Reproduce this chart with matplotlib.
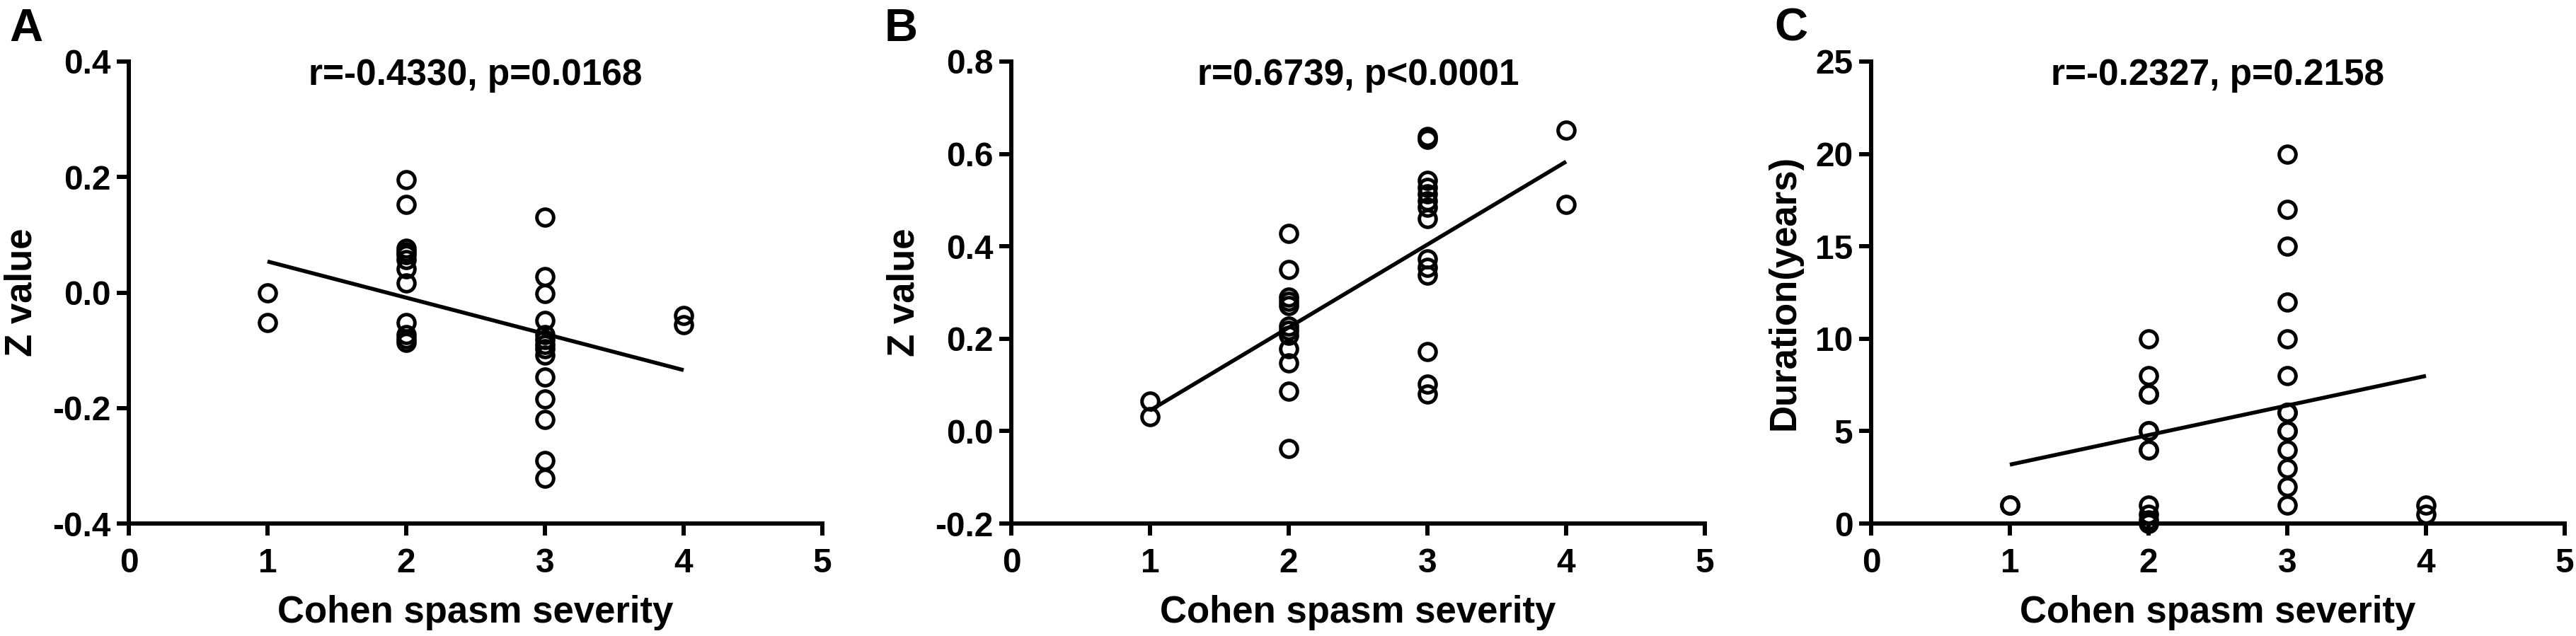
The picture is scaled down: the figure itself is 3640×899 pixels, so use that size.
import numpy as np
import matplotlib.pyplot as plt

plt.rcParams['font.family'] = ['Liberation Sans', 'DejaVu Sans']
plt.rcParams['font.weight'] = 'bold'
plt.rcParams['axes.unicode_minus'] = False

# Cohen spasm severity for each patient (same 30 patients in all panels)
sev = [1, 1,
       2, 2, 2, 2, 2, 2, 2, 2, 2, 2, 2, 2,
       3, 3, 3, 3, 3, 3, 3, 3, 3, 3, 3, 3, 3, 3,
       4, 4]

# Panel A: Z value
z_a = [0.000, -0.052,
       0.195, 0.153, 0.077, 0.071, 0.065, 0.057, 0.041, 0.017, -0.052, -0.073, -0.080, -0.086,
       0.130, 0.027, -0.002, -0.048, -0.073, -0.081, -0.090, -0.098, -0.109, -0.147, -0.184,
       -0.220, -0.291, -0.322,
       -0.040, -0.056]

# Panel B: Z value
z_b = [0.065, 0.032,
       0.428, 0.350, 0.290, 0.281, 0.272, 0.228, 0.218, 0.208, 0.178, 0.148, 0.087, -0.037,
       0.637, 0.631, 0.543, 0.528, 0.513, 0.499, 0.484, 0.460, 0.372, 0.355, 0.337, 0.172,
       0.101, 0.081,
       0.651, 0.490]

# Panel C: disease duration (years)
dur_c = [1, 1,
         10, 8, 7, 5, 4, 1, 0.5, 0.2, 0, 5, 7, 4,
         20, 17, 15, 12, 10, 8, 6, 5, 4, 3, 2, 1, 6, 5,
         1, 0.5]

letters = ['A', 'B', 'C']
titles = ['r=-0.4330, p=0.0168', 'r=0.6739, p<0.0001', 'r=-0.2327, p=0.2158']
ylabels = ['Z value', 'Z value', 'Duration(years)']
series = [z_a, z_b, dur_c]
ylims = [(-0.4, 0.4), (-0.2, 0.8), (0, 25)]
yticks = [[-0.4, -0.2, 0.0, 0.2, 0.4],
          [-0.2, 0.0, 0.2, 0.4, 0.6, 0.8],
          [0, 5, 10, 15, 20, 25]]
yfmt = ['%.1f', '%.1f', '%d']

W, H = 3640, 899
fig = plt.figure(figsize=(W / 100, H / 100), dpi=100)

# layout in pixels
ax_left = [182, 1429, 2644]
ax_w, ax_top, ax_bot = 980, 87, 740
letter_x = [13, 1250, 2507]
ylab_x = [31, 1278, 2522]

for i in range(3):
    ax = fig.add_axes([ax_left[i] / W, 1 - ax_bot / H, ax_w / W, (ax_bot - ax_top) / H])
    x = np.array(sev, dtype=float)
    y = np.array(series[i], dtype=float)

    ax.plot(x, y, 'o', ms=17, mfc='none', mec='black', mew=3.6,
            clip_on=False, zorder=3)

    # linear regression line over the data range
    k, b = np.polyfit(x, y, 1)
    xs = np.array([x.min(), x.max()])
    ax.plot(xs, k * xs + b, color='black', lw=4, solid_capstyle='butt', zorder=2)

    ax.set_xlim(0, 5)
    ax.set_ylim(*ylims[i])
    ax.set_xticks([0, 1, 2, 3, 4, 5])
    ax.set_yticks(yticks[i])
    ax.set_yticklabels([yfmt[i] % v for v in yticks[i]])

    for s in ['top', 'right']:
        ax.spines[s].set_visible(False)
    for s in ['left', 'bottom']:
        ax.spines[s].set_linewidth(4.3)
    ax.tick_params(length=12.5, width=4.3, labelsize=34.5)
    ax.tick_params(axis='x', pad=12)
    ax.tick_params(axis='y', pad=6)

    h = ax_bot - ax_top
    ax.text(0.5, (ax_bot - 120) / h, titles[i], transform=ax.transAxes,
            ha='center', va='baseline', fontsize=37)
    ax.text(0.5, (ax_bot - 880) / h, 'Cohen spasm severity', transform=ax.transAxes,
            ha='center', va='baseline', fontsize=38)
    fig.text(ylab_x[i] / W, 1 - 413 / H, ylabels[i], rotation=90,
             ha='center', va='center', fontsize=38)
    fig.text(letter_x[i] / W, 1 - 58 / H, letters[i], ha='left', va='baseline',
             fontsize=47)

fig.savefig('out.png', dpi=100, facecolor='white')
